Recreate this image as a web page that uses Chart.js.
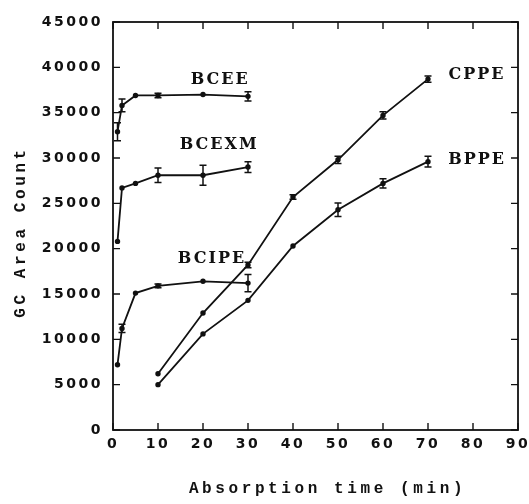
<!DOCTYPE html>
<html>
<head>
<meta charset="utf-8">
<script src="https://cdn.jsdelivr.net/npm/chart.js@4.4.0/dist/chart.umd.min.js"></script>
<style>
  body { margin: 0; background: #fff; }
  canvas { display: block; }
</style>
</head>
<body>
<canvas id="gcChart" width="529" height="504"></canvas>
<script>
// values (time in min, GC area count, +/- error)
const bceeTime = [1, 2, 5, 10, 20, 30];
const bceeArea = [32900, 35800, 36900, 36900, 37000, 36800];
const bceeErr = [1000, 700, 0, 250, 0, 500];

const bcexmTime = [1, 2, 5, 10, 20, 30];
const bcexmArea = [20800, 26700, 27200, 28100, 28100, 29000];
const bcexmErr = [0, 0, 0, 800, 1100, 600];

const bcipeTime = [1, 2, 5, 10, 20, 30];
const bcipeArea = [7200, 11200, 15100, 15900, 16400, 16200];
const bcipeErr = [0, 450, 0, 200, 0, 950];

const cppeTime = [10, 20, 30, 40, 50, 60, 70];
const cppeArea = [6200, 12900, 18200, 25700, 29800, 34700, 38700];
const cppeErr = [0, 0, 300, 250, 400, 400, 350];

const bppeTime = [10, 20, 30, 40, 50, 60, 70];
const bppeArea = [5000, 10600, 14300, 20300, 24300, 27200, 29600];
const bppeErr = [0, 0, 0, 0, 750, 500, 600];

const xTicks = [0, 10, 20, 30, 40, 50, 60, 70, 80, 90];
const yTicks = [0, 5000, 10000, 15000, 20000, 25000, 30000, 35000, 40000, 45000];

// where the series names sit, in data units
const seriesLabels = [
  { text: 'BCEE', x: 23.8, y: 38600 },
  { text: 'BCEXM', x: 23.6, y: 31450 },
  { text: 'BCIPE', x: 22.0, y: 18850 },
  { text: 'CPPE', x: 80.9, y: 39150 },
  { text: 'BPPE', x: 80.9, y: 29750 }
];

const ink = '#111';

function makeSet(name, xs, ys, errs) {
  return {
    label: name,
    data: xs.map((t, i) => ({ x: t, y: ys[i] })),
    errors: errs,
    borderColor: ink,
    backgroundColor: ink,
    borderWidth: 1.8,
    pointRadius: 1.8,
    pointHoverRadius: 1.8,
    tension: 0
  };
}

const framePlugin = {
  id: 'frame',
  beforeDraw(chart) {
    chart.ctx.letterSpacing = '2.5px';
  },
  afterDatasetsDraw(chart) {
    const ctx = chart.ctx;
    const a = chart.chartArea;
    const x = chart.scales.x;
    const y = chart.scales.y;
    ctx.save();
    ctx.strokeStyle = ink;

    // box round the plot
    ctx.lineWidth = 1.8;
    ctx.strokeRect(a.left, a.top, a.right - a.left, a.bottom - a.top);

    // inward ticks on all four sides
    ctx.lineWidth = 1.4;
    ctx.beginPath();
    x.ticks.forEach(t => {
      const px = x.getPixelForValue(t.value);
      ctx.moveTo(px, a.bottom); ctx.lineTo(px, a.bottom - 7);
      ctx.moveTo(px, a.top); ctx.lineTo(px, a.top + 7);
    });
    y.ticks.forEach(t => {
      const py = y.getPixelForValue(t.value);
      ctx.moveTo(a.left, py); ctx.lineTo(a.left + 7, py);
      ctx.moveTo(a.right, py); ctx.lineTo(a.right - 7, py);
    });
    ctx.stroke();

    // error bars
    ctx.lineWidth = 1.5;
    chart.data.datasets.forEach(ds => {
      ds.data.forEach((p, i) => {
        const e = ds.errors[i];
        if (!e) return;
        const px = x.getPixelForValue(p.x);
        const hi = y.getPixelForValue(p.y + e);
        const lo = y.getPixelForValue(p.y - e);
        ctx.beginPath();
        ctx.moveTo(px, hi); ctx.lineTo(px, lo);
        ctx.moveTo(px - 3.5, hi); ctx.lineTo(px + 3.5, hi);
        ctx.moveTo(px - 3.5, lo); ctx.lineTo(px + 3.5, lo);
        ctx.stroke();
      });
    });

    // series names
    ctx.fillStyle = ink;
    ctx.letterSpacing = '2px';
    ctx.font = 'bold 16px "DejaVu Serif"';
    ctx.textAlign = 'center';
    ctx.textBaseline = 'middle';
    seriesLabels.forEach(l => {
      ctx.fillText(l.text, x.getPixelForValue(l.x), y.getPixelForValue(l.y));
    });

    // axis titles
    ctx.letterSpacing = '3.6px';
    ctx.font = 'bold 16px "Liberation Mono"';
    ctx.fillText('Absorption time (min)', (a.left + a.right) / 2 + 12, a.bottom + 59);
    ctx.save();
    ctx.translate(21, (a.top + a.bottom) / 2 + 6);
    ctx.rotate(-Math.PI / 2);
    ctx.fillText('GC Area Count', 0, 0);
    ctx.restore();

    ctx.restore();
    ctx.letterSpacing = '0px';
  }
};

const tickFont = { family: '"DejaVu Sans"', size: 14, weight: 'bold' };

new Chart(document.getElementById('gcChart'), {
  type: 'line',
  data: {
    datasets: [
      makeSet('BCEE', bceeTime, bceeArea, bceeErr),
      makeSet('BCEXM', bcexmTime, bcexmArea, bcexmErr),
      makeSet('BCIPE', bcipeTime, bcipeArea, bcipeErr),
      makeSet('CPPE', cppeTime, cppeArea, cppeErr),
      makeSet('BPPE', bppeTime, bppeArea, bppeErr)
    ]
  },
  options: {
    responsive: false,
    animation: false,
    layout: { padding: { top: 22, right: 11, left: 0, bottom: 0 } },
    plugins: {
      legend: { display: false },
      tooltip: { enabled: false }
    },
    scales: {
      x: {
        type: 'linear',
        min: 0,
        max: 90,
        afterBuildTicks: s => { s.ticks = xTicks.map(v => ({ value: v })); },
        afterFit: s => { s.height = 74; s.paddingLeft = 0; s.paddingRight = 0; },
        grid: { display: false, drawTicks: false },
        border: { display: false },
        ticks: { color: ink, font: tickFont, padding: 6, autoSkip: false, maxRotation: 0,
                 callback: v => String(v) }
      },
      y: {
        type: 'linear',
        min: 0,
        max: 45000,
        afterBuildTicks: s => { s.ticks = yTicks.map(v => ({ value: v })); },
        afterFit: s => { s.width = 113; },
        grid: { display: false, drawTicks: false },
        border: { display: false },
        ticks: { color: ink, font: tickFont, padding: 10, autoSkip: false,
                 callback: v => String(v) }
      }
    }
  },
  plugins: [framePlugin]
});
</script>
</body>
</html>
